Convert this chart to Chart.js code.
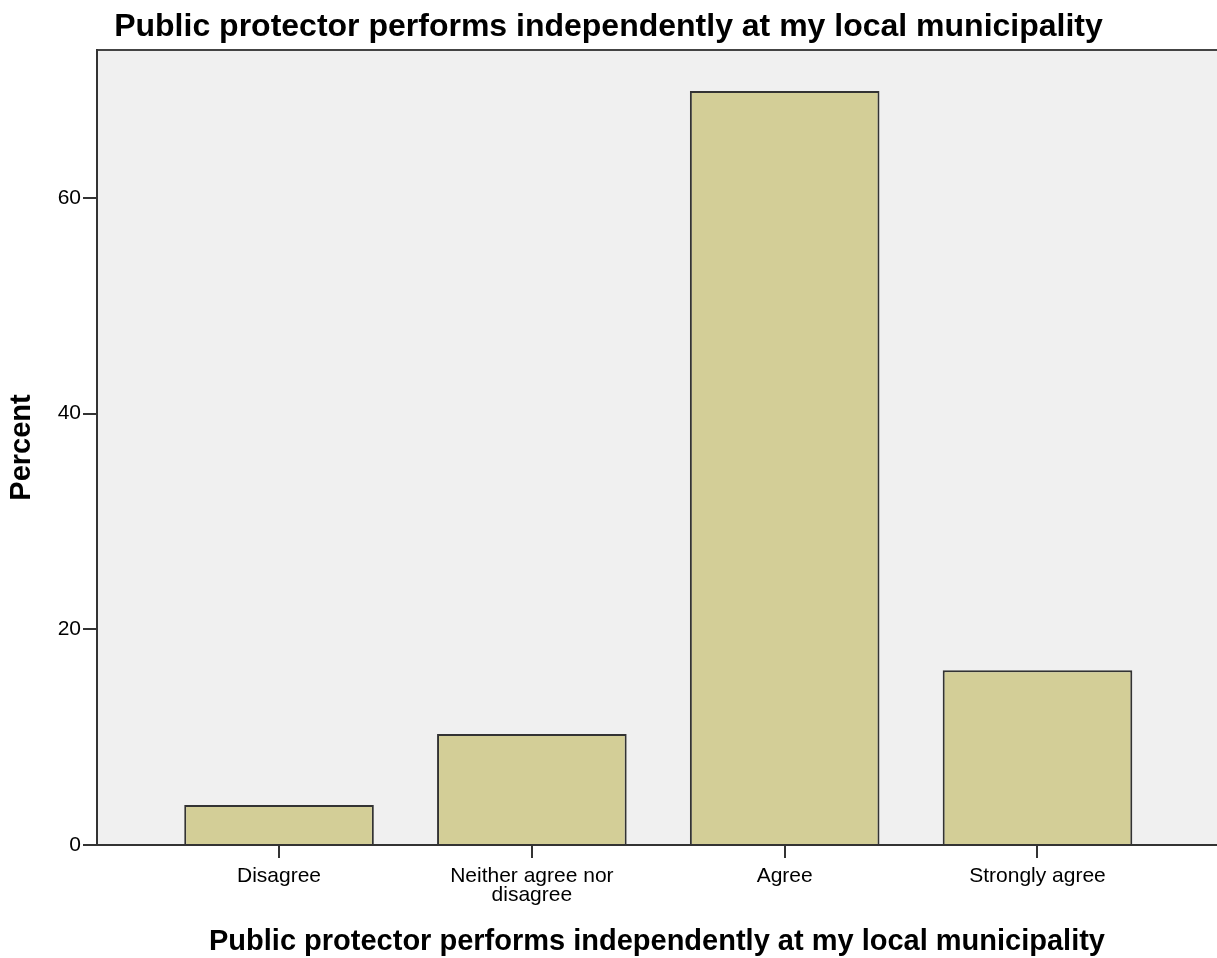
<!DOCTYPE html>
<html>
<head>
<meta charset="utf-8">
<script src="https://cdn.jsdelivr.net/npm/chart.js@4/dist/chart.umd.min.js"></script>
<style>
  html, body { margin: 0; padding: 0; background: #fff; }
  #wrap { width: 1217px; height: 958px; }
</style>
</head>
<body>
<div id="wrap"><canvas id="bar"></canvas></div>
<script>
var titleText = 'Public protector performs independently at my local municipality';
var categories = ['Disagree', 'Neither agree nor disagree', 'Agree', 'Strongly agree'];
var percents = [3.7, 10.3, 69.9, 16.2];
var yTicks = [0, 20, 40, 60];

var font = '"Liberation Sans", Arial, sans-serif';

// grey plot background plus the top frame line
var plotBg = {
    id: 'plotBg',
    beforeDraw: function(chart) {
        var a = chart.chartArea, ctx = chart.ctx;
        ctx.save();
        ctx.fillStyle = '#f0f0f0';
        ctx.fillRect(a.left, a.top, a.right - a.left, a.bottom - a.top);
        ctx.strokeStyle = '#444';
        ctx.lineWidth = 2;
        ctx.beginPath();
        ctx.moveTo(a.left, a.top);
        ctx.lineTo(a.right, a.top);
        ctx.stroke();
        ctx.restore();
    }
};

new Chart(document.getElementById('bar'), {
    type: 'bar',
    data: {
        datasets: [{
            data: percents.map(function(v, i) { return { x: i, y: v }; }),
            backgroundColor: '#d3ce97',
            borderColor: '#333',
            borderWidth: 2,
            categoryPercentage: 1,
            barPercentage: 0.75
        }]
    },
    options: {
        responsive: true,
        maintainAspectRatio: false,
        animation: false,
        layout: { padding: 0 },
        plugins: {
            legend: { display: false },
            tooltip: { enabled: false },
            title: {
                display: true,
                text: titleText,
                color: '#000',
                font: { family: font, size: 32, weight: 'bold', lineHeight: 1 },
                padding: { top: 11, bottom: 7 }
            }
        },
        scales: {
            x: {
                type: 'linear',
                min: -0.72,
                max: 3.71,
                offset: false,
                afterBuildTicks: function(s) {
                    s.ticks = categories.map(function(c, i) { return { value: i }; });
                },
                afterFit: function(s) { s.height = 113; },
                ticks: {
                    color: '#000',
                    padding: 9,
                    maxRotation: 0,
                    autoSkip: false,
                    font: { family: font, size: 21, lineHeight: 0.9 },
                    callback: function(v) {
                        var c = categories[v];
                        return c === 'Neither agree nor disagree' ? ['Neither agree nor', 'disagree'] : c;
                    }
                },
                grid: { drawOnChartArea: false, offset: false, color: '#333', lineWidth: 2, tickLength: 13 },
                border: { color: '#333', width: 2 },
                title: {
                    display: true,
                    text: titleText,
                    color: '#000',
                    font: { family: font, size: 29, weight: 'bold', lineHeight: 1.1 },
                    padding: { top: 0, bottom: 0 }
                }
            },
            y: {
                min: 0,
                max: 73.7,
                afterBuildTicks: function(s) {
                    s.ticks = yTicks.map(function(v) { return { value: v }; });
                },
                afterFit: function(s) { s.width = 97; },
                ticks: {
                    color: '#000',
                    padding: 2,
                    font: { family: font, size: 21 }
                },
                grid: { drawOnChartArea: false, color: '#333', lineWidth: 2, tickLength: 14 },
                border: { color: '#333', width: 2 },
                title: {
                    display: true,
                    text: 'Percent',
                    color: '#000',
                    font: { family: font, size: 29, weight: 'bold', lineHeight: 1.2 },
                    padding: { top: 5, bottom: 0 }
                }
            }
        }
    },
    plugins: [plotBg]
});
</script>
</body>
</html>
